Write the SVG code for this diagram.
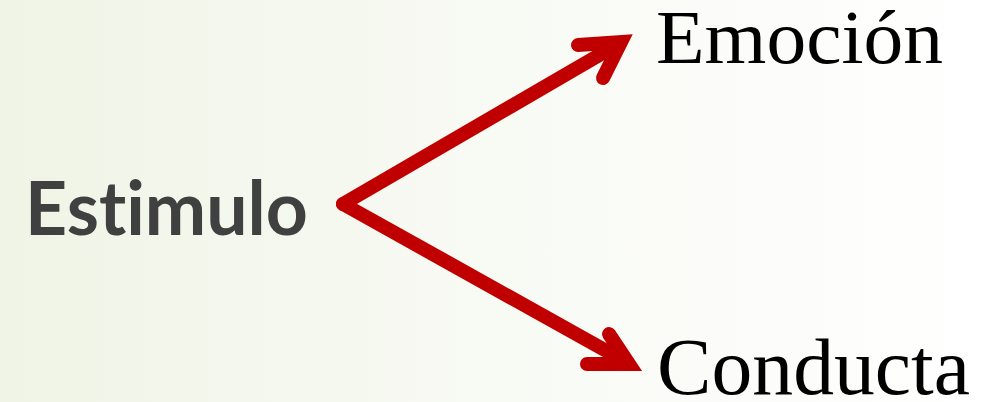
<svg xmlns="http://www.w3.org/2000/svg" width="987" height="402" viewBox="0 0 987 402">
<defs>
<linearGradient id="bg" x1="0" y1="0" x2="1" y2="0">
<stop offset="0" stop-color="#f0f4e6"/>
<stop offset="0.5" stop-color="#f8faf4"/>
<stop offset="1" stop-color="#ffffff"/>
</linearGradient>
<style>
.arrow{fill:none;stroke:#c00000;stroke-width:14;stroke-linecap:round;stroke-linejoin:miter;stroke-miterlimit:10}
.sans{font-family:"Lato","Liberation Sans",sans-serif;font-weight:bold;fill:#404040;font-variant-ligatures:none;font-feature-settings:"liga" 0}
.serif{font-family:"Liberation Serif","DejaVu Serif",serif;fill:#000}
</style>
</defs>
<rect width="987" height="402" fill="url(#bg)"/>
<g id="connectors">
<path class="arrow" d="M343,204 L620,43"/>
<path class="arrow" d="M578,45 L621,42 L603,78"/>
<path class="arrow" d="M343,204 L628,363"/>
<path class="arrow" d="M609,334 L629,364 L587,364"/>
</g>
<g id="estimulo"><text class="sans" x="25" y="235" font-size="75" textLength="283" lengthAdjust="spacingAndGlyphs">Estimulo</text></g>
<g id="emocion"><text class="serif" x="656" y="63" font-size="76" textLength="287" lengthAdjust="spacingAndGlyphs">Emoción</text></g>
<g id="conducta"><text class="serif" x="657" y="394" font-size="80" textLength="313" lengthAdjust="spacingAndGlyphs">Conducta</text></g>
</svg>
